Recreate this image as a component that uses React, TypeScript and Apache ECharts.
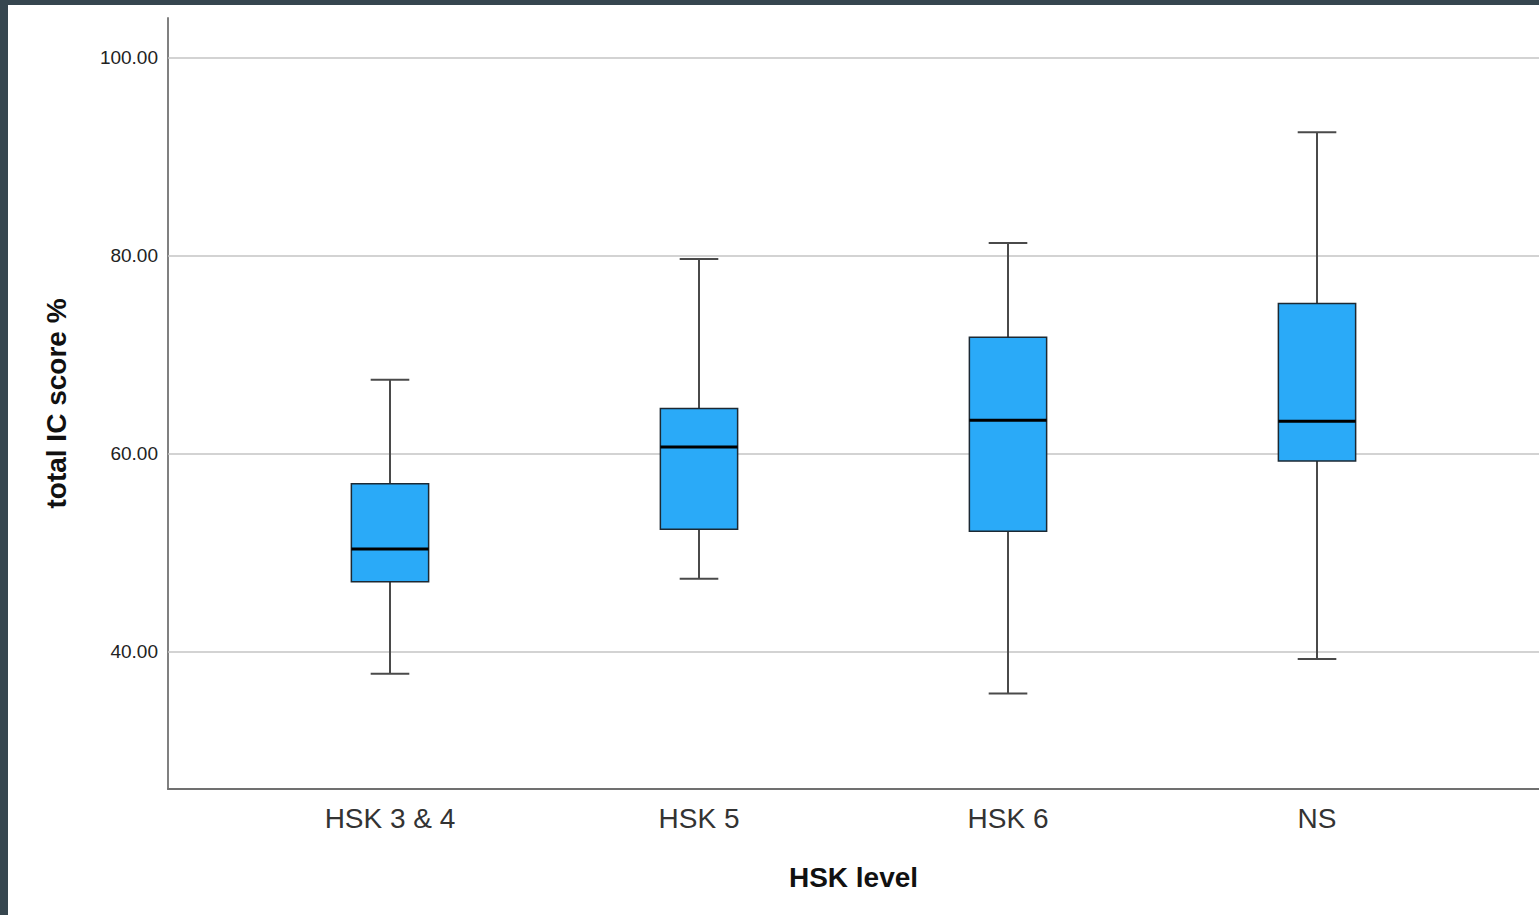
import React, { useEffect, useRef } from "react";
import * as echarts from "echarts";

const categories = ["HSK 3 & 4", "HSK 5", "HSK 6", "NS"];
const minVals = [37.8, 47.4, 35.8, 39.3];
const q1Vals = [47.1, 52.4, 52.2, 59.3];
const medianVals = [50.4, 60.7, 63.4, 63.3];
const q3Vals = [57.0, 64.6, 71.8, 75.2];
const maxVals = [67.5, 79.7, 81.3, 92.5];
const yTicks = [40, 60, 80, 100];
const categoryIdx = [0, 1, 2, 3];

const FONT = "'Liberation Sans', Arial, sans-serif";

export default function App() {
  const ref = useRef<HTMLDivElement>(null);
  useEffect(() => {
    if (!ref.current) return;
    const chart = echarts.init(ref.current, null, { renderer: "svg" });
    const boxData = categories.map((_, i) => [
      i,
      minVals[i],
      q1Vals[i],
      medianVals[i],
      q3Vals[i],
      maxVals[i],
    ]);
    const whisker = { stroke: "#4a4a4a", lineWidth: 2 };
    chart.setOption({
      animation: false,
      backgroundColor: "#ffffff",
      grid: { left: 160, top: 13, right: 0, bottom: 126 },
      xAxis: {
        type: "value",
        min: -0.7184,
        max: 3.7184,
        name: "HSK level",
        nameLocation: "middle",
        nameGap: 74,
        nameTextStyle: { fontFamily: FONT, fontSize: 28, fontWeight: "bold", color: "#111" },
        axisLine: { show: true, onZero: false, lineStyle: { color: "#707070", width: 2 } },
        axisTick: { show: false },
        splitLine: { show: false },
        axisLabel: {
          customValues: categoryIdx,
          formatter: (v: number) => categories[Math.round(v)] ?? "",
          fontFamily: FONT,
          fontSize: 28,
          color: "#333",
          margin: 15,
        },
      },
      yAxis: {
        type: "value",
        min: 26.16,
        max: 104.04,
        name: "total IC score %",
        nameLocation: "middle",
        nameRotate: 90,
        nameGap: 98,
        nameTextStyle: { fontFamily: FONT, fontSize: 28, fontWeight: "bold", color: "#111" },
        axisLine: { show: true, onZero: false, lineStyle: { color: "#808080", width: 2 } },
        axisTick: { show: false },
        splitLine: { show: false },
        axisLabel: {
          customValues: yTicks,
          formatter: (v: number) => v.toFixed(2),
          fontFamily: FONT,
          fontSize: 19,
          color: "#222",
          margin: 10,
          padding: [5, 0, 0, 0],
        },
      },
      series: [
        {
          type: "line",
          data: [],
          z: 1,
          silent: true,
          markLine: {
            silent: true,
            symbol: "none",
            label: { show: false },
            lineStyle: { color: "#c4c4c4", type: "solid", width: 1.5 },
            data: yTicks.map((v) => ({ yAxis: v })),
          },
        },
        {
          type: "custom",
          z: 5,
          data: boxData,
          encode: { x: 0, y: [1, 2, 3, 4, 5] },
          renderItem: (params: any, api: any) => {
            const x = api.value(0);
            const pMin = api.coord([x, api.value(1)]);
            const pQ1 = api.coord([x, api.value(2)]);
            const pMed = api.coord([x, api.value(3)]);
            const pQ3 = api.coord([x, api.value(4)]);
            const pMax = api.coord([x, api.value(5)]);
            const boxW = api.size([0.25, 0])[0];
            const capW = api.size([0.125, 0])[0];
            const cx = pMed[0];
            return {
              type: "group",
              children: [
                { type: "line", shape: { x1: cx, y1: pQ3[1], x2: cx, y2: pMax[1] }, style: whisker },
                { type: "line", shape: { x1: cx, y1: pQ1[1], x2: cx, y2: pMin[1] }, style: whisker },
                { type: "line", shape: { x1: cx - capW / 2, y1: pMax[1], x2: cx + capW / 2, y2: pMax[1] }, style: whisker },
                { type: "line", shape: { x1: cx - capW / 2, y1: pMin[1], x2: cx + capW / 2, y2: pMin[1] }, style: whisker },
                {
                  type: "rect",
                  shape: { x: cx - boxW / 2, y: pQ3[1], width: boxW, height: pQ1[1] - pQ3[1] },
                  style: { fill: "#2aaaf8", stroke: "#1c2933", lineWidth: 1.5 },
                },
                {
                  type: "line",
                  shape: { x1: cx - boxW / 2, y1: pMed[1], x2: cx + boxW / 2, y2: pMed[1] },
                  style: { stroke: "#000", lineWidth: 3 },
                },
              ],
            };
          },
        },
      ],
    });
    return () => chart.dispose();
  }, []);
  return (
    <div style={{ position: "fixed", left: 0, top: 0, width: 1539, height: 915, background: "#36464f" }}>
      <div
        ref={ref}
        style={{ position: "absolute", left: 8, top: 5, width: 1531, height: 910, background: "#fff" }}
      />
    </div>
  );
}
